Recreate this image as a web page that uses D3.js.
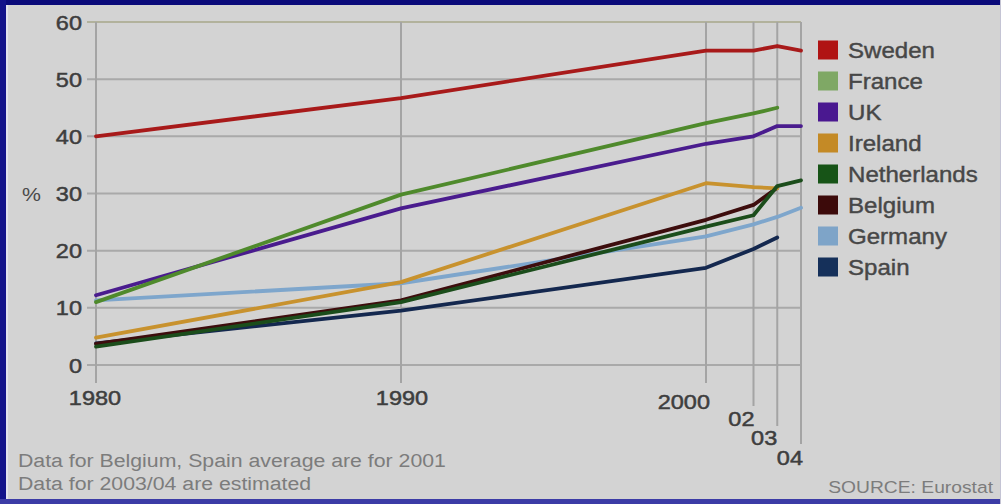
<!DOCTYPE html>
<html>
<head>
<meta charset="utf-8">
<script src="https://cdn.jsdelivr.net/npm/d3@7"></script>
<style>
  html, body { margin: 0; padding: 0; background: #d3d3d3; }
  svg { display: block; }
  text { font-family: "Liberation Sans", Arial, Helvetica, sans-serif; }
</style>
</head>
<body>
<svg id="chart" width="1001" height="504"></svg>
<script>
// Years sampled (the axis is compressed after 2000)
const years = [1980, 1990, 2000, 2002, 2003, 2004];

// Share of households (%) per country; null = no value for that year
const sweden      = [40.0, 46.7, 55.0, 55.0, 55.8, 55.0];
const france      = [11.0, 29.8, 42.3, 44.0, 45.0, null];
const uk          = [12.2, 27.4, 38.7, 40.0, 41.8, 41.8];
const ireland     = [4.8, 14.5, 31.8, 31.1, 30.9, null];
const netherlands = [3.2, 11.0, 24.2, 26.2, 31.3, 32.3];
const belgium     = [3.7, 11.3, 25.4, 28.0, 31.0, null];
const germany     = [11.3, 14.3, 22.5, 24.6, 25.9, 27.5];
const spain       = [3.8, 9.5, 17.0, 20.3, 22.3, null];

const countries = ["Sweden", "France", "UK", "Ireland", "Netherlands", "Belgium", "Germany", "Spain"];
const yTicks = [0, 10, 20, 30, 40, 50, 60];
const xTickLabels = ["1980", "1990", "2000", "02", "03", "04"];

const footNotes = [
  "Data for Belgium, Spain average are for 2001",
  "Data for 2003/04 are estimated"
];
const sourceText = "SOURCE: Eurostat";

const seriesValues = {
  Sweden: sweden, France: france, UK: uk, Ireland: ireland,
  Netherlands: netherlands, Belgium: belgium, Germany: germany, Spain: spain
};

const lineColor = {
  Sweden: "#a81a1a", France: "#4f8a2c", UK: "#4a1c8e", Ireland: "#c8922e",
  Netherlands: "#1b4d1b", Belgium: "#3d0d0d", Germany: "#7ea6cc", Spain: "#14284f"
};
const swatchColor = {
  Sweden: "#b01414", France: "#7fa865", UK: "#4a1890", Ireland: "#c48a26",
  Netherlands: "#175417", Belgium: "#3c0a0a", Germany: "#7ea4c8", Spain: "#15305a"
};

const svg = d3.select("#chart");
const W = 1001, H = 504;
const SX = 1.12; // slight horizontal stretch of lettering

// Scales: the years after 2000 are drawn on a tighter spacing
const x = d3.scaleLinear().domain([1980, 2000, 2004]).range([96, 706, 801]);
const y = d3.scaleLinear().domain([0, 60]).range([365, 22]);

// Background
svg.append("rect").attr("width", W).attr("height", H).attr("fill", "#d3d3d3");

// Horizontal gridlines
const grid = svg.append("g");
grid.selectAll("line.h").data(yTicks).join("line")
  .attr("class", "h")
  .attr("x1", 87).attr("x2", x(2004))
  .attr("y1", d => y(d)).attr("y2", d => y(d))
  .attr("stroke", d => d === 60 ? "#b2b29c" : "#a9a9a9")
  .attr("stroke-width", 2);

// Vertical gridlines, running down to their staggered labels
const vEnd = [383, 383, 383, 406, 426, 444];
grid.selectAll("line.v").data(years).join("line")
  .attr("class", "v")
  .attr("x1", d => x(d)).attr("x2", d => x(d))
  .attr("y1", y(60)).attr("y2", (d, i) => vEnd[i])
  .attr("stroke", "#a4a4a4")
  .attr("stroke-width", 2);

// Y tick labels
svg.append("g").selectAll("text").data(yTicks).join("text")
  .attr("transform", d => `translate(82,${y(d) + 7.5}) scale(${SX},1)`)
  .attr("text-anchor", "end")
  .attr("font-size", 21)
  .attr("fill", "#3e3e3e")
  .attr("stroke", "#3e3e3e").attr("stroke-width", 0.5)
  .text(d => d);

svg.append("text")
  .attr("transform", `translate(22,${y(30) + 7}) scale(${SX},1)`)
  .attr("font-size", 19)
  .attr("fill", "#4a4a4a")
  .text("%");

// X tick labels
const xLab = [
  { anchor: "middle", dx: -1, base: 405 },
  { anchor: "middle", dx: 1, base: 405 },
  { anchor: "end", dx: 4, base: 409 },
  { anchor: "end", dx: 1, base: 426 },
  { anchor: "end", dx: 0, base: 445 },
  { anchor: "end", dx: 2, base: 465 }
];
svg.append("g").selectAll("text").data(years).join("text")
  .attr("transform", (d, i) => `translate(${x(d) + xLab[i].dx},${xLab[i].base}) scale(${SX},1)`)
  .attr("text-anchor", (d, i) => xLab[i].anchor)
  .attr("font-size", 21)
  .attr("fill", "#3e3e3e")
  .attr("stroke", "#3e3e3e").attr("stroke-width", 0.5)
  .text((d, i) => xTickLabels[i]);

// Lines
const line = d3.line()
  .defined(d => d.v !== null)
  .x(d => x(d.year))
  .y(d => y(d.v));

const drawOrder = ["Spain", "Germany", "Belgium", "Ireland", "Netherlands", "UK", "France", "Sweden"];
svg.append("g").selectAll("path").data(drawOrder).join("path")
  .attr("d", c => line(years.map((yr, i) => ({ year: yr, v: seriesValues[c][i] }))))
  .attr("fill", "none")
  .attr("stroke", c => lineColor[c])
  .attr("stroke-width", 3.8)
  .attr("stroke-linejoin", "round")
  .attr("stroke-linecap", "round");

// Legend
const leg = d3.scalePoint().domain(countries).range([50, 267]);
const lg = svg.append("g");
lg.selectAll("rect").data(countries).join("rect")
  .attr("x", 818).attr("y", d => leg(d) - 9.5)
  .attr("width", 20).attr("height", 19)
  .attr("fill", d => swatchColor[d]);
lg.selectAll("text").data(countries).join("text")
  .attr("transform", d => `translate(848,${leg(d) + 7.5}) scale(${SX},1)`)
  .attr("font-size", 21.5)
  .attr("fill", "#474747")
  .attr("stroke", "#474747").attr("stroke-width", 0.4)
  .text(d => d);

// Notes and source
svg.append("g").selectAll("text").data(footNotes).join("text")
  .attr("transform", (d, i) => `translate(18,${467 + i * 23}) scale(${SX},1)`)
  .attr("font-size", 19)
  .attr("fill", "#7c7c7c")
  .text(d => d);

svg.append("text")
  .attr("transform", `translate(993,493) scale(${SX},1)`)
  .attr("text-anchor", "end")
  .attr("font-size", 17.2)
  .attr("fill", "#7c7c7c")
  .text(sourceText);

// Frame
svg.append("rect").attr("x", 0).attr("y", 0).attr("width", W).attr("height", 5).attr("fill", "#0a0a7a");
svg.append("rect").attr("x", 0).attr("y", 0).attr("width", 6).attr("height", H).attr("fill", "#12128a");
svg.append("rect").attr("x", 0).attr("y", H - 5).attr("width", W).attr("height", 5).attr("fill", "#3c3ca6");
svg.append("rect").attr("x", 6).attr("y", 5).attr("width", 2).attr("height", H - 10).attr("fill", "#e2e2ec");
svg.append("rect").attr("x", W - 1).attr("y", 0).attr("width", 1).attr("height", H).attr("fill", "#c4c4d4");
</script>
</body>
</html>
